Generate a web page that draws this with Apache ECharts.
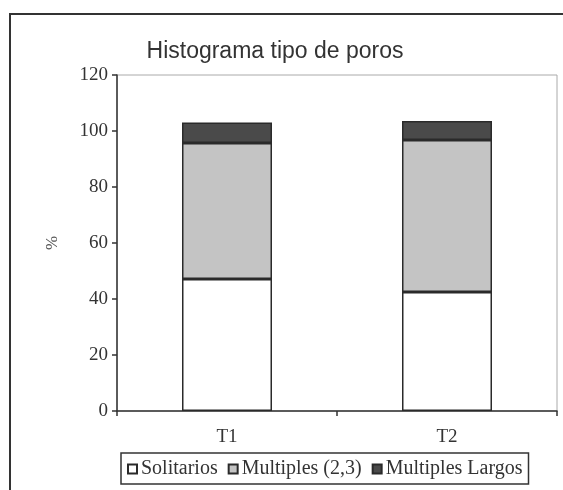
<!DOCTYPE html>
<html>
<head>
<meta charset="utf-8">
<script src="https://cdn.jsdelivr.net/npm/echarts@6/dist/echarts.min.js"></script>
<style>
  html, body { margin: 0; padding: 0; background: #fff; }
  #chart { width: 563px; height: 490px; }
</style>
</head>
<body>
<div id="chart"></div>
<script>
// datos
var categories = ['T1', 'T2']
var solitarios = [47.1, 42.5]
var multiples = [48.6, 54.3]
var multiplesLargos = [7.3, 6.8]
var yTicks = { min: 0, max: 120, interval: 20 }

var serif = 'Liberation Serif'
var chart = echarts.init(document.getElementById('chart'))

function barSeries(name, data, color) {
  return {
    name: name,
    type: 'bar',
    stack: 'total',
    data: data,
    barWidth: 90,
    itemStyle: {
      color: color,
      borderColor: '#2a2a2a',
      borderWidth: 1.5
    },
    animation: false
  }
}

chart.setOption({
  backgroundColor: '#fff',
  title: {
    text: 'Histograma tipo de poros',
    left: 270,
    textAlign: 'center',
    top: 35,
    textStyle: {
      fontFamily: 'Liberation Sans',
      fontWeight: 'normal',
      fontSize: 23,
      color: '#333'
    }
  },
  graphic: [{
    type: 'rect',
    shape: { x: 10, y: 14, width: 620, height: 520 },
    style: { fill: 'none', stroke: '#333', lineWidth: 2 },
    silent: true
  }],
  grid: {
    left: 117,
    right: 6,
    top: 75,
    bottom: 79,
    show: true,
    borderColor: '#aaa',
    borderWidth: 1,
    backgroundColor: 'transparent'
  },
  legend: {
    left: 121,
    top: 453,
    padding: [6, 6, 5, 6],
    borderColor: '#333',
    borderWidth: 1.5,
    itemWidth: 9,
    itemHeight: 9,
    itemGap: 10,
    icon: 'rect',
    textStyle: { fontFamily: serif, fontSize: 20, color: '#333', padding: [0, 0, 0, -1] },
    data: ['Solitarios', 'Multiples (2,3)', 'Multiples Largos']
  },
  xAxis: {
    type: 'category',
    data: categories,
    axisLine: { lineStyle: { color: '#333', width: 1.5 } },
    axisTick: { show: true, length: 5, lineStyle: { color: '#333', width: 1.5 } },
    axisLabel: { fontFamily: serif, fontSize: 19, color: '#333', margin: 17 }
  },
  yAxis: {
    type: 'value',
    min: yTicks.min,
    max: yTicks.max,
    interval: yTicks.interval,
    name: '%',
    nameLocation: 'middle',
    nameRotate: 90,
    nameGap: 56,
    nameTextStyle: { fontFamily: serif, fontSize: 17, color: '#555' },
    axisLine: { show: true, lineStyle: { color: '#333', width: 1.5 } },
    axisTick: { show: true, length: 5, lineStyle: { color: '#333', width: 1.5 } },
    axisLabel: { fontFamily: serif, fontSize: 19, color: '#333', margin: 9 },
    splitLine: { show: false }
  },
  series: [
    barSeries('Solitarios', solitarios, '#ffffff'),
    barSeries('Multiples (2,3)', multiples, '#c4c4c4'),
    barSeries('Multiples Largos', multiplesLargos, '#4a4a4a')
  ]
})
</script>
</body>
</html>
